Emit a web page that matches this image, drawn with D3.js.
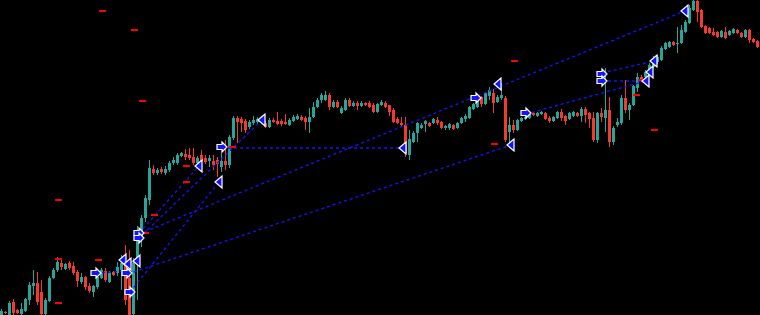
<!DOCTYPE html>
<html><head><meta charset="utf-8">
<script src="https://cdn.jsdelivr.net/npm/d3@7"></script>
<style>html,body{margin:0;padding:0;background:#000;overflow:hidden}svg{display:block}</style>
</head><body><div id="chart"></div>
<script>
// OHLC prices (points), one candle per bar index
const openP = [5,8,5,18,10,6,9,20,34,37, 28,6,19,42,50,57,51,57,54,48, 38,43,34,28,33,42,49,38,48,47,
 50,58,42,6,58,80,102,120,151,147, 151,147,150,157,157,164,166,165,163,157, 165,162,159,159,160,153,159,155,182,202,
 201,199,193,197,198,199,197,193,200,199, 199,198,195,199,201,203,202,198,203,213, 220,220,225,213,218,207,210,220,214,217,
 214,217,217,215,208,215,217,215,210,201, 197,195,165,178,187,192,196,197,197,200, 198,192,192,195,192,197,201,202,211,213,
 223,216,224,227,218,222,222,188,195,190, 199,201,202,207,204,206,207,202,199,202, 208,204,201,204,207,204,211,207,202,180,
 207,202,210,178,195,197,222,210,215,232, 243,243,245,253,258,260,271,273,278,276, 277,288,297,310,319,310,294,292,288,288,
 283,288,285,287,290,287,283,290,281,279];
const highP = [11,9,19,21,11,17,22,38,50,48, 40,22,44,52,63,62,57,59,58,50, 47,44,37,35,45,52,52,49,49,58,
 65,75,70,62,94,105,125,160,155,152, 153,154,159,163,167,168,171,172,172,164, 170,165,165,165,163,167,180,185,204,204,
 203,201,200,204,203,204,199,202,202,208, 201,206,202,205,206,205,204,212,218,222, 227,229,227,220,220,214,222,222,219,219,
 219,218,219,217,217,220,219,215,212,203, 203,203,190,189,198,197,200,198,202,203, 199,195,197,196,198,203,206,214,217,224,
 224,228,233,231,225,237,224,203,200,201, 203,204,207,208,208,209,208,204,204,209, 211,205,208,209,208,213,213,208,208,208,
 212,252,223,194,202,225,240,217,235,247, 245,250,257,264,265,274,278,279,279,293, 295,300,315,320,320,311,295,293,292,289,
 290,293,290,292,291,288,291,291,282,280];
const lowP = [4,6,4,5,6,5,8,15,25,15, 4,4,18,41,48,50,50,50,45,33, 36,30,27,23,31,41,38,37,44,44,
 30,15,4,4,20,73,98,115,145,145, 146,145,148,155,155,163,160,160,155,156, 157,156,153,150,143,148,150,152,180,177,
 188,187,191,195,196,197,192,192,197,195, 194,195,194,198,200,199,190,187,202,212, 217,219,210,212,212,206,209,213,213,210,
 213,214,212,207,207,214,212,204,197,196, 193,163,160,177,178,191,188,193,196,195, 191,190,190,190,191,196,198,201,210,212,
 213,215,220,207,217,220,178,177,187,189, 198,200,201,204,203,205,200,197,198,201, 199,195,200,203,203,198,197,192,178,177,
 198,188,173,175,193,195,207,200,214,228, 238,242,244,252,256,259,270,272,274,267, 276,287,296,309,298,292,286,286,284,282,
 282,281,284,286,286,282,282,277,277,272];
const closeP = [9,7,17,7,7,11,21,35,37,18, 6,20,42,50,58,53,56,52,47,39, 43,33,29,34,43,50,40,47,45,53,
 57,20,5,58,88,102,122,152,147,150, 148,151,157,160,165,167,163,162,157,162, 159,158,162,155,156,159,155,183,202,198,
 197,190,198,200,201,202,193,200,198,196, 196,196,200,203,204,200,198,203,213,220, 225,225,213,218,213,212,220,214,217,214,
 217,215,213,208,216,218,213,208,198,197, 195,167,181,187,197,195,199,194,201,197, 192,194,196,191,197,202,204,213,216,222,
 216,227,230,217,223,225,180,195,190,200, 202,203,206,205,207,208,201,199,203,208, 202,199,207,208,204,211,205,201,180,207,
 203,210,178,192,198,222,210,215,234,243, 240,248,255,262,263,272,277,278,275,277, 290,298,312,319,308,293,287,287,285,283,
 289,282,289,291,287,283,290,280,278,273];

// Signal markers: [bar index, price]
const rightArrows = [[23.75,47],[31.5,47],[32.25,28],[34.5,87],[34.5,82],[55.25,173],[118.75,222],[131.25,207],[150.25,246],[150.25,239]];
const leftTriangles = [[30.5,60],[31.75,56],[34,59],[49.5,154],[54.5,138],[65.25,200],[100.5,172],[124.25,236],[127.5,175],[161.25,239],[162.25,248],[163.25,259],[171,309]];
// Trend lines: [[index1, price1],[index2, price2]]
const trendLines = [
 [[23.75,47],[31.5,49]],
 [[31.75,46],[127.5,175]],
 [[32.25,28],[54.5,138]],
 [[34.5,87],[49.5,154]],
 [[34.5,82],[65.25,200]],
 [[34.5,86],[171,309]],
 [[55.25,172],[100.5,172]],
 [[131.25,206],[161.25,239]],
 [[150.25,239],[161.25,239]],
 [[150.25,247],[163.25,259]]
];
// Short red level marks: [bar index, price]
const levelMarks = [[14.125,120],[14.125,61],[14.125,17],[24.125,60],[25.125,309],[33.125,290],[35.125,219],[31.875,58],
 [36,87],[38.125,105],[46.125,154],[46.125,138],[57.625,173],[123.125,176],[128.125,259],[158.875,225],[159.875,240],[163.125,190]];

const W = 760, H = 315;
const svg = d3.select("#chart").append("svg").attr("width", W).attr("height", H);
svg.append("rect").attr("width", W).attr("height", H).attr("fill", "#000");

const n = openP.length;
const x = d3.scaleLinear().domain([0, n - 1]).range([1, 757]);
const y = d3.scaleLinear().domain([0, 320]).range([320, 0]);

const BULL = "#26a69a", BEAR = "#f23a2e", BLUE = "#1414ff";

const candles = d3.range(n).map(i => ({i, o: openP[i], h: highP[i], l: lowP[i], c: closeP[i]}));
const cg = svg.append("g").attr("shape-rendering", "crispEdges");
cg.selectAll("rect.wick").data(candles).join("rect").attr("class", "wick")
  .attr("x", d => Math.round(x(d.i)))
  .attr("width", 1)
  .attr("y", d => y(d.h))
  .attr("height", d => Math.max(1, y(d.l) - y(d.h)))
  .attr("fill", d => d.c >= d.o ? BULL : BEAR);
cg.selectAll("rect.body").data(candles).join("rect").attr("class", "body")
  .attr("x", d => Math.round(x(d.i)) - 1)
  .attr("width", 3)
  .attr("y", d => y(Math.max(d.o, d.c)))
  .attr("height", d => Math.max(1, Math.abs(y(d.o) - y(d.c))))
  .attr("fill", d => d.c >= d.o ? BULL : BEAR);

// trend lines
svg.append("g").selectAll("line").data(trendLines).join("line")
  .attr("x1", d => x(d[0][0])).attr("y1", d => y(d[0][1]))
  .attr("x2", d => x(d[1][0])).attr("y2", d => y(d[1][1]))
  .attr("stroke", BLUE).attr("stroke-width", 1.3).attr("stroke-dasharray", "3,3");

// red level marks
svg.append("g").attr("shape-rendering", "crispEdges").selectAll("rect").data(levelMarks).join("rect")
  .attr("x", d => Math.round(x(d[0])) - 3.5).attr("y", d => Math.round(y(d[1])) - 1)
  .attr("width", 7).attr("height", 2).attr("fill", "#ff0000");

// markers
const mg = svg.append("g");
mg.selectAll("path.rarrow").data(rightArrows).join("path").attr("class", "rarrow")
  .attr("d", d => {
    const cx = x(d[0]), cy = y(d[1]);
    return `M${cx-5},${cy-2.5}H${cx}V${cy-5}L${cx+5},${cy}L${cx},${cy+5}V${cy+2.5}H${cx-5}Z`;
  })
  .attr("fill", BLUE).attr("stroke", "#fff").attr("stroke-width", 1.2);
mg.selectAll("path.ltri").data(leftTriangles).join("path").attr("class", "ltri")
  .attr("d", d => {
    const cx = x(d[0]), cy = y(d[1]);
    return `M${cx-4},${cy}L${cx+3},${cy-6}L${cx+3},${cy+6}Z`;
  })
  .attr("fill", BLUE).attr("stroke", "#fff").attr("stroke-width", 1.2);
</script>
</body></html>
